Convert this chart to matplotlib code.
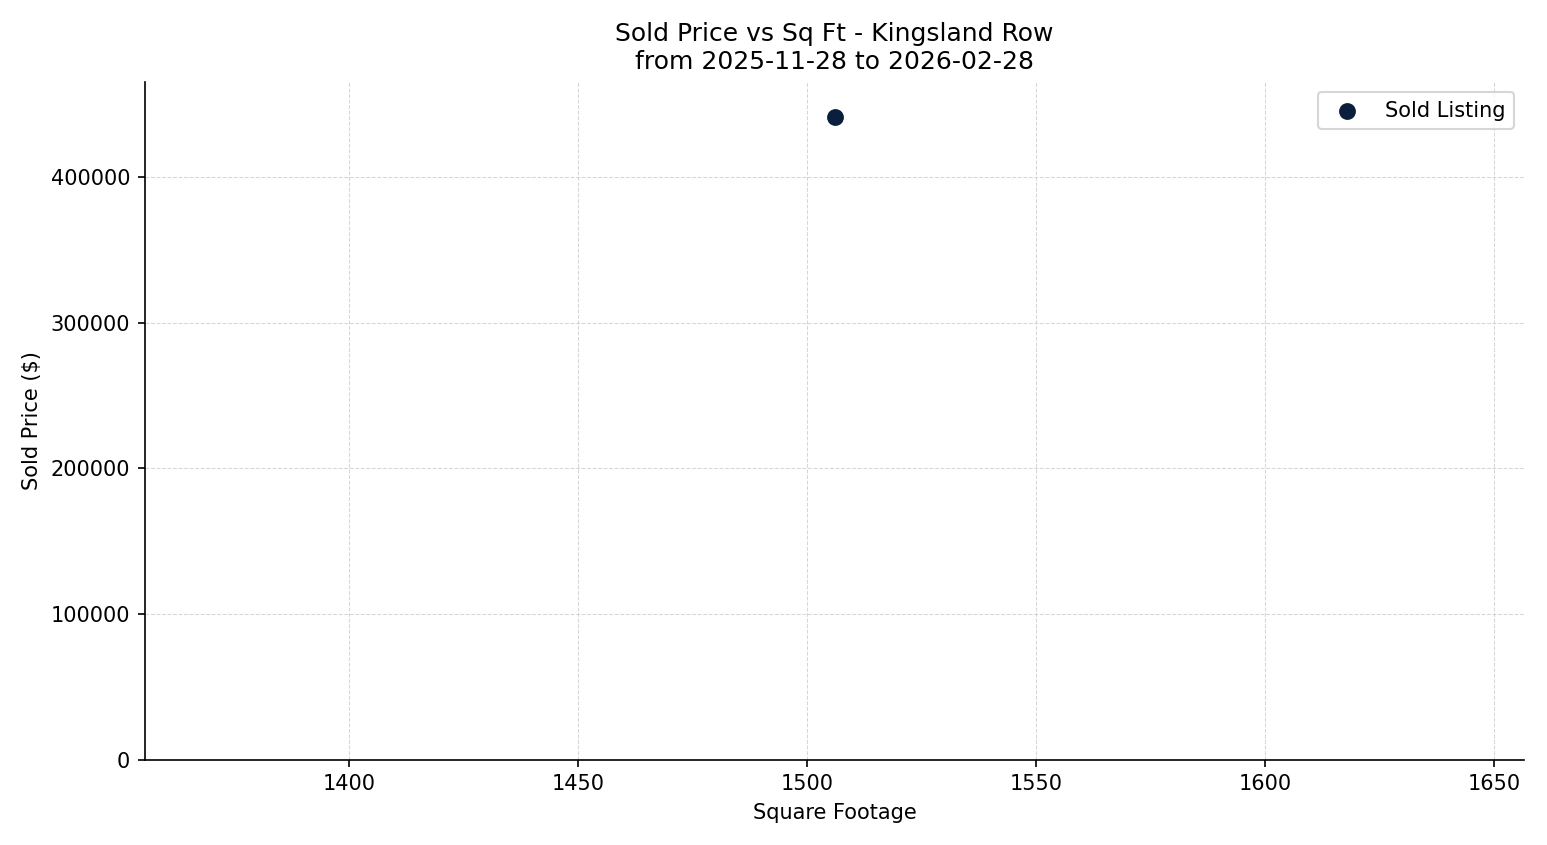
import matplotlib
import matplotlib.pyplot as plt

matplotlib.use("Agg")

SQFT = [1506]
SOLD_PRICE = [441000]
TITLE = "Sold Price vs Sq Ft - Kingsland Row\nfrom 2025-11-28 to 2026-02-28"

fig, ax = plt.subplots(figsize=(1547 / 150, 845 / 150), dpi=150)
ax.scatter(SQFT, SOLD_PRICE, s=50, color="#0a1f3c", label="Sold Listing", zorder=3)

ax.set_xlim(min(SQFT) * 0.9, max(SQFT) * 1.1)
ax.set_ylim(0, max(SOLD_PRICE) * 1.055)
ax.ticklabel_format(style="plain", axis="y")

ax.set_title(TITLE, fontsize=12)
ax.set_xlabel("Square Footage", fontsize=10)
ax.set_ylabel("Sold Price ($)", fontsize=10)
ax.tick_params(axis="both", labelsize=10)
ax.grid(True, linestyle="--", linewidth=0.5, color="#cccccc", alpha=0.8)
ax.set_axisbelow(True)
ax.spines["top"].set_visible(False)
ax.spines["right"].set_visible(False)
ax.legend(loc="upper right", fontsize=10)

plt.tight_layout()
plt.savefig("out.png", dpi=150)
